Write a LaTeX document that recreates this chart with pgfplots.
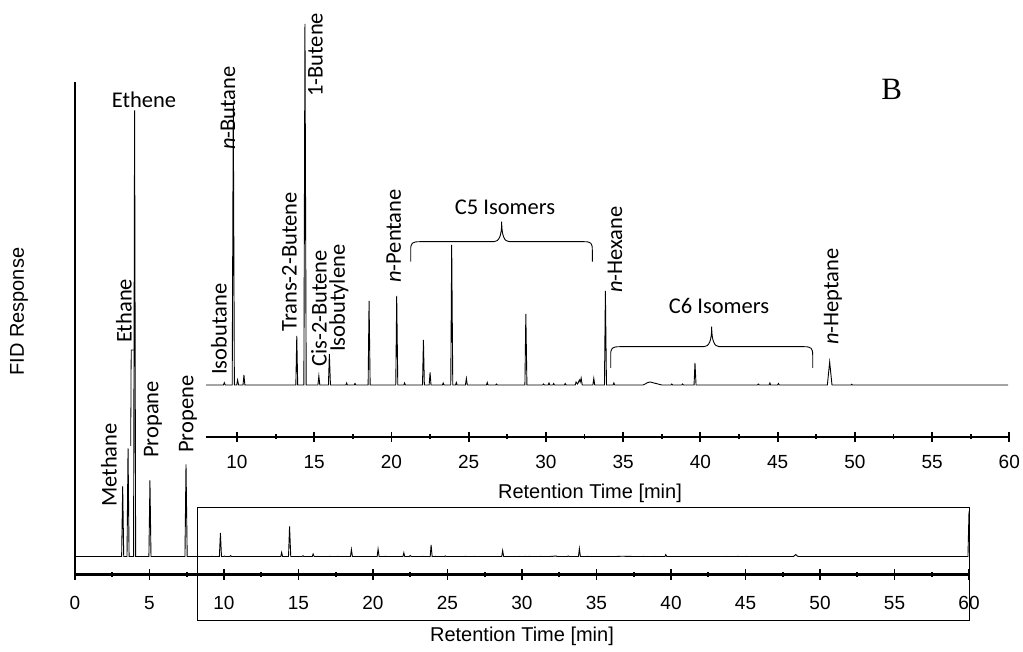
\documentclass[border=0pt]{standalone}
\usepackage{pgfplots}
\pgfplotsset{compat=1.18}
\usepackage{pgfplotstable}
\usepackage{fontspec}
\setmainfont{Liberation Sans}
\newfontfamily\carlito{Carlito}
\newfontfamily\tnr{Liberation Serif}

\pgfplotstableread{
t h
0 0
3.13 0
3.2 840
3.27 0
3.49 0
3.56 1296
3.63 0
3.93 0
4.0 5352
4.07 0
4.96 0
5.03 912
5.10 0
7.38 0
7.45 1104
7.53 0
8.0 0
9.12 0
9.18 2.3
9.24 0
9.69 0
9.76 282
9.83 0
9.98 0
10.04 5
10.10 0
10.39 0
10.45 10
10.51 0
13.81 0
13.87 49
13.93 0
14.33 0
14.40 361
14.48 0
15.24 0
15.30 9
15.36 0
15.92 0
15.98 31
16.05 0
17.05 0
17.10 2
17.15 0
17.59 0
17.64 1.5
17.69 0
18.49 0
18.55 84
18.62 0
20.28 0
20.34 89
20.41 0
20.80 0
20.85 2
20.90 0
22.01 0
22.07 45
22.13 0
22.44 0
22.50 12.5
22.56 0
23.30 0
23.35 2
23.40 0
23.84 0
23.90 140
23.97 0
24.15 0
24.20 2.5
24.25 0
24.79 0
24.85 6.5
24.91 0
26.15 0
26.20 2.5
26.25 0
26.75 0
26.80 1
26.85 0
28.64 0
28.70 71
28.77 0
29.80 0
29.85 1
29.90 0
30.15 0
30.20 2
30.25 0
30.45 0
30.50 1.5
30.55 0
31.20 0
31.25 1.5
31.30 0
31.90 0
31.95 3
32.05 1
32.17 5
32.22 3
32.28 7
32.35 0
33.04 0
33.10 6.5
33.16 0
33.79 0
33.85 94
33.92 0
34.35 0
34.40 2
34.45 0
36.30 0
36.60 2.5
36.75 3
37.0 2
37.5 0
38.10 0
38.15 1
38.20 0
38.80 0
38.85 1
38.90 0
39.59 0
39.65 22
39.72 0
43.70 0
43.75 1
43.80 0
44.45 0
44.50 2
44.55 0
45.00 0
45.05 1.5
45.10 0
48.22 0
48.37 23
48.52 0
49.75 0
49.80 0.8
49.85 0
59.85 0
59.93 0
60 540
}\chrom

\begin{document}
\begin{tikzpicture}
\pgfplotsset{
  every axis/.append style={
    scale only axis,
    ytick=\empty,
    tick align=outside,
    major tick length=10bp,
    minor tick length=5bp,
    tick style={line width=1.8bp, black},
    axis line style={-, line width=2bp},
    ticklabel style={font=\fontsize{19bp}{22bp}\selectfont},
    /pgf/number format/assume math mode=true,
  }
}
% main axis
\begin{axis}[
  at={(75bp,77.5bp)}, anchor=south west,
  width=894bp, height=492.5bp,
  xmin=0, xmax=60, ymin=-216, ymax=5694,
  axis lines=left,
  x axis line style={-}, y axis line style={-},
  xtick={0,5,...,60}, minor x tick num=1,
  xticklabel style={yshift=-13bp},
]
\addplot[line width=0.9bp, black] table[x=t,y=h]{\chrom};
\end{axis}
% inset axis
\begin{axis}[
  at={(206.1bp,215.3bp)}, anchor=south west,
  width=803.2bp, height=416.7bp,
  xmin=8, xmax=60, ymin=-51.7, ymax=365,
  axis x line=bottom, axis y line=none,
  x axis line style={-},
  xtick={10,15,...,60}, minor xtick={12.5,17.5,...,57.5},
  xticklabel style={yshift=-10bp},
]
\addplot[line width=0.9bp, black, restrict x to domain=8:59.95] table[x=t,y=h]{\chrom};
\end{axis}
% annotations in image pixel coordinates
\begin{scope}[x=1bp, y=-1bp, yshift=652bp]
  \draw[line width=1bp] (197.3,508) rectangle (969,621);
  \draw[line width=0.8bp] (130.7,446) -- (131.2,350) -- (134,350);
  \tikzset{lab/.style={rotate=90, anchor=west, inner sep=0pt, font=\carlito\fontsize{22.5bp}{26bp}\selectfont}}
  \node[lab] at (219,375) {Isobutane};
  \node[lab] at (228,150) {\textit{n}-Butane};
  \node[lab] at (289.5,331.7) {Trans-2-Butene};
  \node[lab] at (315.5,97) {1-Butene};
  \node[lab] at (319,367) {Cis-2-Butene};
  \node[lab] at (339,352) {Isobutylene};
  \node[lab] at (393.7,283) {\textit{n}-Pentane};
  \node[lab] at (615,293) {\textit{n}-Hexane};
  \node[lab] at (833,345) {\textit{n}-Heptane};
  \node[lab] at (109,507) {Methane};
  \node[lab] at (124,343) {Ethane};
  \node[lab] at (153,458) {Propane};
  \node[lab] at (188,453) {Propene};
  \tikzset{hlab/.style={inner sep=0pt, font=\carlito\fontsize{22.5bp}{26bp}\selectfont}}
  \node[hlab] at (144,100) {Ethene};
  \node[hlab] at (505,207) {C5 Isomers};
  \node[hlab] at (719,305.5) {C6 Isomers};
  \node[inner sep=0pt, font=\tnr\fontsize{31bp}{34bp}\selectfont] at (891.7,89) {B};
  % braces
  \draw[line width=0.9bp] (410.7,261.7) -- (410.7,250) .. controls (410.7,243) and (412,241.7) .. (420,241.7) -- (494,241.7) .. controls (499,241.7) and (501.7,236) .. (501.7,221.7) .. controls (501.7,236) and (504.4,241.7) .. (509.4,241.7) -- (584,241.7) .. controls (591,241.7) and (592.3,243) .. (592.3,250) -- (592.3,261.7);
  \draw[line width=0.9bp] (610.7,368) -- (610.7,355) .. controls (610.7,348) and (612,346.7) .. (620,346.7) -- (704,346.7) .. controls (709,346.7) and (711.7,341) .. (711.7,326.7) .. controls (711.7,341) and (714.4,346.7) .. (719.4,346.7) -- (804,346.7) .. controls (811,346.7) and (812.7,348) .. (812.7,355) -- (812.7,368);
  % axis labels
  \tikzset{alab/.style={inner sep=0pt, font=\fontsize{20bp}{24bp}\selectfont}}
  \node[alab, rotate=90] at (19,311.7) {FID Response};
  \node[alab] at (522,636) {Retention Time [min]};
  \node[alab] at (590,493) {Retention Time [min]};
\end{scope}
\pgfresetboundingbox
\path (0,0) rectangle (1023bp,652bp);
\end{tikzpicture}
\end{document}
